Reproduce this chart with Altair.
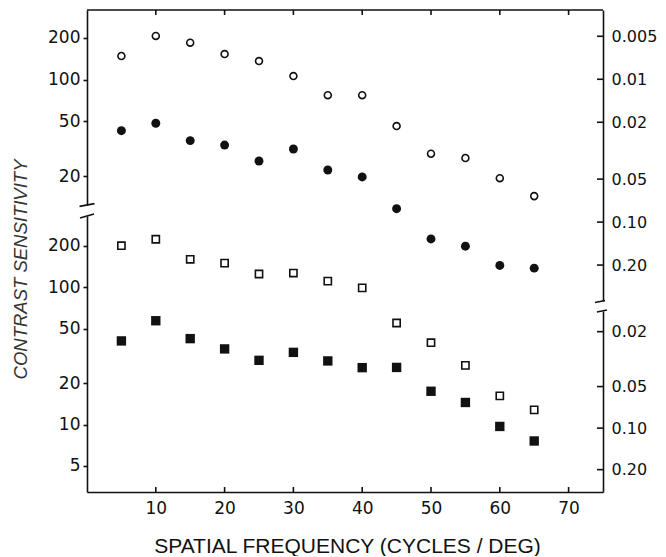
import altair as alt
import pandas as pd

# ---- data ----
freq = [5, 10, 15, 20, 25, 30, 35, 40, 45, 50, 55, 60, 65]
open_circles = [148, 207, 185, 153, 136, 106, 77, 77, 46, 29, 27, 19.3, 14.3]
filled_circles = [42.6, 48.2, 36.1, 33.5, 25.7, 31.4, 22.1, 19.7, 11.6, 7.0, 6.2, 4.5, 4.3]
open_squares = [201, 224, 160, 150, 125, 127, 111, 99, 55, 39.5, 27, 16.2, 12.8]
filled_squares = [40.7, 57.1, 42.3, 35.6, 29.4, 33.6, 29.1, 26.0, 26.1, 17.5, 14.5, 9.7, 7.6]

x_ticks = [10, 20, 30, 40, 50, 60, 70]
left_upper_ticks = [20, 50, 100, 200]
left_lower_ticks = [5, 10, 20, 50, 100, 200]
right_upper_ticks = [0.005, 0.01, 0.02, 0.05, 0.10, 0.20]
right_lower_ticks = [0.02, 0.05, 0.10, 0.20]

# axis segment extents (scale domains of the broken axes)
ul_domain = [12.33, 319.0]
ll_domain = [3.231, 330.7]
ru_domain = [0.0032725, 0.35695]
rl_domain = [0.014169, 0.29035]

W, H = 516, 482
INK = "#111111"

XS = alt.Scale(domain=[0, 75], nice=False, zero=False)
UL = alt.Scale(type="log", domain=ul_domain, range=[195, 0], nice=False)
LL = alt.Scale(type="log", domain=ll_domain, range=[482, 206], nice=False)
RU = alt.Scale(type="log", domain=ru_domain, range=[0, 291], nice=False)
RL = alt.Scale(type="log", domain=rl_domain, range=[301, 482], nice=False)

x_axis = alt.Axis(
    orient="bottom", values=x_ticks, ticks=False, tickSize=0, labelPadding=8, format="d",
    labelOverlap=False, labelFlush=False, labelFontSize=17,
    title="SPATIAL FREQUENCY (CYCLES / DEG)", titleFont="Liberation Sans",
    titleFontSize=21, titleFontWeight="normal", titleX=260, titleY=54,
    titleAlign="center", titleBaseline="middle", titleColor=INK,
)
ul_axis = alt.Axis(
    orient="left", values=left_upper_ticks, format="d", tickSize=4, labelPadding=3,
    labelOverlap=False, labelFontSize=17,
    title="CONTRAST SENSITIVITY", titleAngle=270, titleX=-67, titleY=259,
    titleFont="Liberation Sans", titleFontStyle="italic", titleFontWeight="normal",
    titleFontSize=18.5, titleAlign="center", titleBaseline="middle", titleColor="#333333",
)
ll_axis = alt.Axis(orient="left", values=left_lower_ticks, format="d", tickSize=4,
                   labelPadding=3, labelOverlap=False, labelFontSize=17, title="")
lab_expr = "datum.value < 0.1 ? format(datum.value, '~g') : format(datum.value, '.2f')"
ru_axis = alt.Axis(orient="right", values=right_upper_ticks, ticks=False, tickSize=0,
                   labelPadding=8, labelExpr=lab_expr, labelOverlap=False,
                   labelFontSize=16, title="")
rl_axis = alt.Axis(orient="right", values=right_lower_ticks, ticks=False, tickSize=0,
                   labelPadding=8, labelExpr=lab_expr, labelOverlap=False,
                   labelFontSize=16, title="")


def X(field):
    return alt.X(field, scale=XS, axis=x_axis)


def series(vals):
    return pd.DataFrame({"f": freq, "s": vals})


oc = alt.Chart(series(open_circles)).mark_point(
    shape="circle", filled=False, color=INK, strokeWidth=1.6, size=48, opacity=1
).encode(x=X("f:Q"), y=alt.Y("s:Q", scale=UL, axis=ul_axis))

fc = alt.Chart(series(filled_circles)).mark_point(
    shape="circle", filled=True, color=INK, size=80, opacity=1
).encode(x=X("f:Q"), y=alt.Y("s:Q", scale=UL, axis=None))

osq = alt.Chart(series(open_squares)).mark_point(
    shape="square", filled=False, color=INK, strokeWidth=1.6, size=52, opacity=1
).encode(x=X("f:Q"), y=alt.Y("s:Q", scale=LL, axis=ll_axis))

fsq = alt.Chart(series(filled_squares)).mark_point(
    shape="square", filled=True, color=INK, size=88, opacity=1
).encode(x=X("f:Q"), y=alt.Y("s:Q", scale=LL, axis=None))

ru = alt.Chart(pd.DataFrame({"t": right_upper_ticks})).mark_rule(color=INK, strokeWidth=1.6).encode(
    y=alt.Y("t:Q", scale=RU, axis=ru_axis), x=alt.value(W - 6), x2=alt.value(W))
rl = alt.Chart(pd.DataFrame({"t": right_lower_ticks})).mark_rule(color=INK, strokeWidth=1.6).encode(
    y=alt.Y("t:Q", scale=RL, axis=rl_axis), x=alt.value(W - 6), x2=alt.value(W))

bt = alt.Chart(pd.DataFrame({"f": x_ticks})).mark_rule(color=INK, strokeWidth=1.6).encode(
    x=X("f:Q"), y=alt.value(H - 5), y2=alt.value(H))
tt = alt.Chart(pd.DataFrame({"f": x_ticks})).mark_rule(color=INK, strokeWidth=1.6).encode(
    x=X("f:Q"), y=alt.value(0), y2=alt.value(5))
top = alt.Chart(pd.DataFrame({"f": [0], "b": [75]})).mark_rule(color=INK, strokeWidth=1.6).encode(
    x=X("f:Q"), x2="b:Q", y=alt.value(0))


def brk(xv, sv, scale, path, size):
    return alt.Chart(pd.DataFrame({"f": [xv], "s": [sv]})).mark_point(
        shape=path, filled=False, color=INK, strokeWidth=1.6, size=size, opacity=1
    ).encode(x=X("f:Q"), y=alt.Y("s:Q", scale=scale, axis=None))


b1 = brk(0, ul_domain[0], UL, "M-1,0.18L1,-0.18", 225)
b2 = brk(0, ll_domain[1], LL, "M-1,0.3L1,-0.3", 196)
b3 = brk(75, ru_domain[1], RU, "M-1.6,0.3L0.4,-0.1", 100)
b4 = brk(75, rl_domain[0], RL, "M-1.2,0.2L0.8,-0.2", 100)

chart = alt.layer(oc, fc, osq, fsq, ru, rl, bt, tt, top, b1, b2, b3, b4).resolve_scale(
    y="independent"
).properties(
    width=W, height=H,
    autosize=alt.AutoSizeParams(type="none"),
    padding={"left": 79, "top": 2, "right": 55, "bottom": 64},
).configure_view(stroke="transparent").configure_axis(
    grid=False, domainColor=INK, tickColor=INK, labelColor=INK, domainWidth=1.6,
    tickWidth=1.6, labelFont="DejaVu Sans", labelFontSize=16,
)

chart.save("out.html", embed_options={"renderer": "svg", "actions": False})
